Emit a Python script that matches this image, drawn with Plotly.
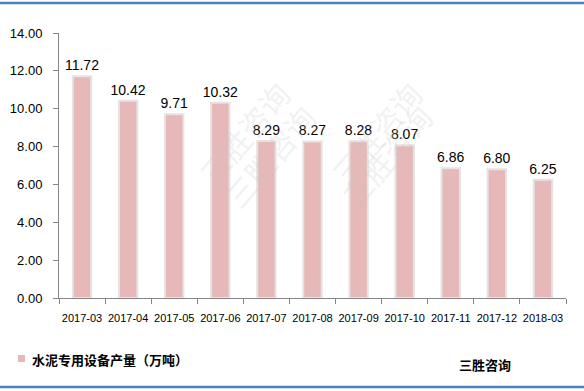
import plotly.graph_objects as go

categories = ["2017-03", "2017-04", "2017-05", "2017-06", "2017-07", "2017-08",
              "2017-09", "2017-10", "2017-11", "2017-12", "2018-03"]
values = [11.72, 10.42, 9.71, 10.32, 8.29, 8.27, 8.28, 8.07, 6.86, 6.80, 6.25]
series_name = "水泥专用设备产量（万吨）"
source_text = "三胜咨询"
y_ticks = [0, 2, 4, 6, 8, 10, 12, 14]

BAR = "#E6B9B8"
font_family = "Liberation Sans, Arial, sans-serif"
cjk = "Noto Sans CJK SC, sans-serif"

fig = go.Figure()
fig.add_trace(go.Bar(
    x=categories, y=values, name=series_name,
    marker=dict(color=BAR, line=dict(color="#E4E4E4", width=2)),
    text=[f"{v:.2f}" for v in values], textposition="outside",
    constraintext="none",
    textfont=dict(size=14, color="#000000", family=font_family),
    cliponaxis=False, showlegend=False,
))

annotations = []
# watermarks
for (x, y) in [(0.25, 0.86), (0.74, 0.86), (0.30, 0.30), (0.76, 0.30)]:
    annotations.append(dict(xref="paper", yref="paper", x=x, y=y, text="三胜咨询",
                            showarrow=False, textangle=-50,
                            font=dict(size=30, color="rgba(200,200,200,0.25)", family=cjk)))
# legend
annotations.append(dict(xref="paper", yref="paper", x=(30 - 59) / 507, y=(298 - 359) / 265,
                        xanchor="left", yanchor="middle", text="<b>" + series_name + "</b>",
                        showarrow=False, font=dict(size=13, color="#000000", family=cjk)))
annotations.append(dict(xref="paper", yref="paper", x=(457 - 59) / 507, y=(298 - 364) / 265,
                        xanchor="left", yanchor="middle", text="<b>" + source_text + "</b>",
                        showarrow=False, font=dict(size=13, color="#000000", family=cjk)))

shapes = [
    dict(type="rect", xref="paper", yref="paper",
         x0=(18 - 59) / 507, x1=(25 - 59) / 507, y0=(298 - 355) / 265, y1=(298 - 362) / 265,
         fillcolor=BAR, line=dict(width=0)),
    dict(type="line", xref="paper", yref="paper", x0=-59 / 507, x1=525 / 507,
         y0=(298 - 3) / 265, y1=(298 - 3) / 265, line=dict(color="#4F81BD", width=2.5)),
    dict(type="line", xref="paper", yref="paper", x0=-59 / 507, x1=525 / 507,
         y0=(298 - 387) / 265, y1=(298 - 387) / 265, line=dict(color="#4F81BD", width=2.5)),
]

fig.update_layout(
    width=584, height=391,
    margin=dict(l=59, r=18, t=33, b=93),
    paper_bgcolor="white", plot_bgcolor="white",
    bargap=0.6,
    font=dict(family=font_family, color="#000000"),
    xaxis=dict(type="category", showline=True, linecolor="#868686", linewidth=1,
               ticks="outside", ticklen=5, tickcolor="#868686",
               tickson="boundaries", ticklabelstandoff=10, tickangle=0,
               automargin=False,
               tickfont=dict(size=11, family=font_family, color="#000000"),
               showgrid=False),
    yaxis=dict(range=[0, 14], tickvals=y_ticks, ticktext=[f"{v:.2f}" for v in y_ticks],
               showline=True, linecolor="#868686", linewidth=1,
               ticks="outside", ticklen=5, tickcolor="#868686",
               ticklabelstandoff=8, automargin=False,
               tickfont=dict(size=13, family=font_family, color="#000000"),
               showgrid=False, zeroline=False),
    annotations=annotations, shapes=shapes,
)

fig.write_html("out.html", config={"displayModeBar": False},
               post_script="document.body.style.margin='0';document.body.style.padding='0';")
